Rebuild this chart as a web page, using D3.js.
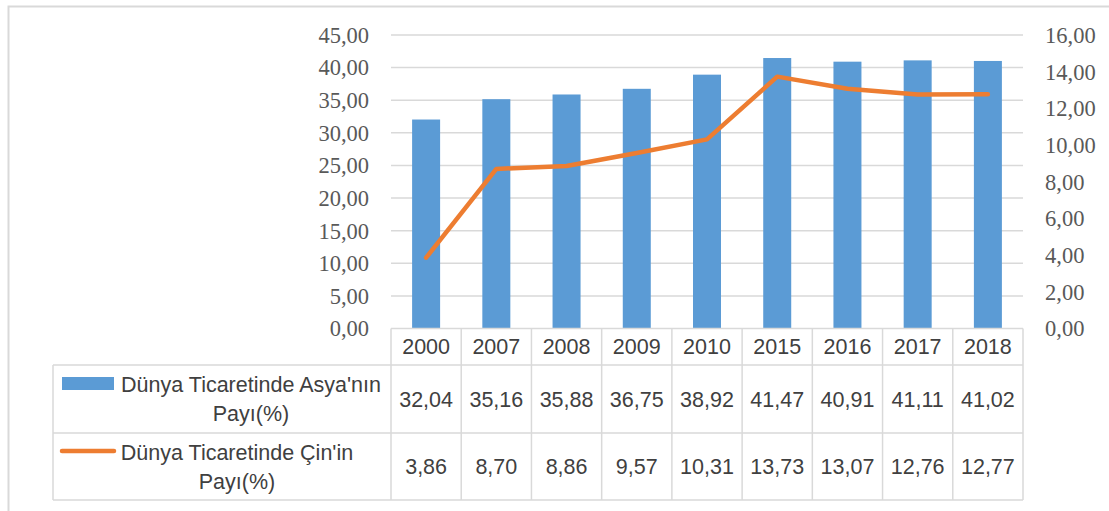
<!DOCTYPE html>
<html>
<head>
<meta charset="utf-8">
<script src="https://cdn.jsdelivr.net/npm/d3@7"></script>
<style>
  html, body { margin: 0; padding: 0; background: #fff; }
  svg { display: block; }
</style>
</head>
<body>
<svg id="chart" width="1109" height="511"></svg>
<script>
// data
const years = ['2000', '2007', '2008', '2009', '2010', '2015', '2016', '2017', '2018'];
const asiaShare = [32.04, 35.16, 35.88, 36.75, 38.92, 41.47, 40.91, 41.11, 41.02];
const chinaShare = [3.86, 8.70, 8.86, 9.57, 10.31, 13.73, 13.07, 12.76, 12.77];
const leftTicks = [0, 5, 10, 15, 20, 25, 30, 35, 40, 45];
const rightTicks = [0, 2, 4, 6, 8, 10, 12, 14, 16];
const seriesNames = [
  ["Dünya Ticaretinde Asya'nın", 'Payı(%)'],
  ["Dünya Ticaretinde Çin'in", 'Payı(%)'],
];

const BLUE = '#5b9bd5';
const ORANGE = '#ed7d31';
const GRID = '#d9d9d9';
const fmt = (v) => v.toFixed(2).replace('.', ',');

const svg = d3.select('#chart');

// outer chart frame (clipped at right/bottom like the screenshot)
svg.append('rect')
  .attr('x', 8.5).attr('y', 6.5)
  .attr('width', 1130).attr('height', 540)
  .attr('fill', 'none').attr('stroke', GRID).attr('stroke-width', 2);

const plot = { left: 391, right: 1023, top: 35, bottom: 328.5 };

const x = d3.scaleBand().domain(years).range([plot.left, plot.right]);
const yL = d3.scaleLinear().domain([0, 45]).range([plot.bottom, plot.top]);
const yR = d3.scaleLinear().domain([0, 16]).range([plot.bottom, plot.top]);

// gridlines
svg.append('g')
  .selectAll('line')
  .data(leftTicks.filter((d) => d > 0))
  .join('line')
  .attr('x1', plot.left).attr('x2', plot.right)
  .attr('y1', (d) => yL(d)).attr('y2', (d) => yL(d))
  .attr('stroke', GRID).attr('stroke-width', 1.5);

// left axis labels
svg.append('g')
  .selectAll('text')
  .data(leftTicks)
  .join('text')
  .attr('x', 369)
  .attr('y', (d) => yL(d))
  .attr('dy', '0.35em')
  .attr('text-anchor', 'end')
  .attr('font-family', '"Liberation Serif", "Times New Roman", serif')
  .attr('font-size', 22.5)
  .attr('fill', '#595959')
  .text(fmt);

// right axis labels
svg.append('g')
  .selectAll('text')
  .data(rightTicks)
  .join('text')
  .attr('x', 1045)
  .attr('y', (d) => yR(d))
  .attr('dy', '0.35em')
  .attr('text-anchor', 'start')
  .attr('font-family', '"Liberation Serif", "Times New Roman", serif')
  .attr('font-size', 22.5)
  .attr('fill', '#595959')
  .text(fmt);

// bars
const barW = 28;
svg.append('g')
  .selectAll('rect')
  .data(years)
  .join('rect')
  .attr('x', (d) => x(d) + x.bandwidth() / 2 - barW / 2)
  .attr('width', barW)
  .attr('y', (d, i) => yL(asiaShare[i]))
  .attr('height', (d, i) => plot.bottom - yL(asiaShare[i]))
  .attr('fill', BLUE);

// line on secondary axis
const line = d3.line()
  .x((d, i) => x(years[i]) + x.bandwidth() / 2)
  .y((d) => yR(d));
svg.append('path')
  .datum(chinaShare)
  .attr('d', line)
  .attr('fill', 'none')
  .attr('stroke', ORANGE)
  .attr('stroke-width', 4.5)
  .attr('stroke-linejoin', 'round')
  .attr('stroke-linecap', 'round');

// data table below the plot
const rows = { header: [328.5, 365], asia: [365, 433], china: [433, 500] };
const tableLeft = 53;
const table = svg.append('g').attr('stroke', GRID).attr('stroke-width', 1.5);

// horizontal rules
table.append('line')
  .attr('x1', plot.left).attr('x2', plot.right)
  .attr('y1', rows.header[0]).attr('y2', rows.header[0]);
[rows.asia[0], rows.china[0], rows.china[1]].forEach((yy) => {
  table.append('line')
    .attr('x1', tableLeft).attr('x2', plot.right)
    .attr('y1', yy).attr('y2', yy);
});
// vertical rules
table.append('line')
  .attr('x1', tableLeft).attr('x2', tableLeft)
  .attr('y1', rows.asia[0]).attr('y2', rows.china[1]);
table.selectAll('line.col')
  .data([...years.map((d) => x(d)), plot.right])
  .join('line')
  .attr('class', 'col')
  .attr('x1', (d) => d).attr('x2', (d) => d)
  .attr('y1', rows.header[0]).attr('y2', rows.china[1]);

const cellFont = '"Liberation Sans", Arial, sans-serif';
const mid = (r) => (r[0] + r[1]) / 2;

function cellRow(values, r, formatter) {
  svg.append('g')
    .selectAll('text')
    .data(values)
    .join('text')
    .attr('x', (d, i) => x(years[i]) + x.bandwidth() / 2)
    .attr('y', mid(r))
    .attr('dy', '0.35em')
    .attr('text-anchor', 'middle')
    .attr('font-family', cellFont)
    .attr('font-size', 21.5)
    .attr('fill', '#404040')
    .text(formatter);
}
cellRow(years, rows.header, (d) => d);
cellRow(asiaShare, rows.asia, fmt);
cellRow(chinaShare, rows.china, fmt);

// legend keys in the first column
svg.append('rect')
  .attr('x', 62).attr('y', 377)
  .attr('width', 52).attr('height', 13)
  .attr('fill', BLUE);
svg.append('line')
  .attr('x1', 62).attr('x2', 114)
  .attr('y1', 451).attr('y2', 451)
  .attr('stroke', ORANGE).attr('stroke-width', 4.5)
  .attr('stroke-linecap', 'round');

const legendCenters = [251, 237];
const legendTops = [384, 452];
seriesNames.forEach((lines, k) => {
  svg.append('text')
    .attr('text-anchor', 'middle')
    .attr('font-family', cellFont)
    .attr('font-size', 21.5)
    .attr('fill', '#404040')
    .selectAll('tspan')
    .data(lines)
    .join('tspan')
    .attr('x', legendCenters[k])
    .attr('y', (d, i) => legendTops[k] + i * 29)
    .attr('dy', '0.35em')
    .text((d) => d);
});
</script>
</body>
</html>
